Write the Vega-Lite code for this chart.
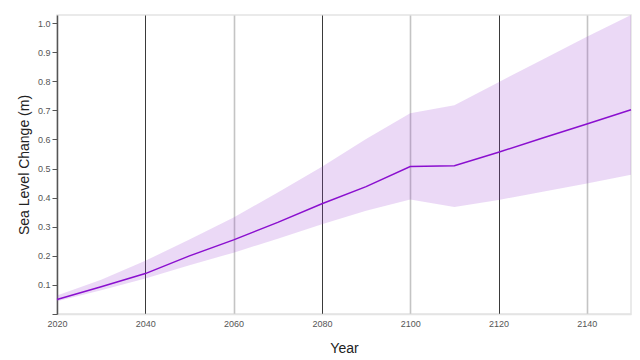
{
  "$schema": "https://vega.github.io/schema/vega-lite/v6.json",
  "autosize": "none",
  "width": 574,
  "height": 299,
  "padding": {"left": 57, "top": 15, "right": 9, "bottom": 46},
  "config": {
    "font": "Liberation Sans",
    "view": {"stroke": "#e4e4e4", "strokeWidth": 1.5},
    "axis": {"labelOverlap": false, "labelFlush": false},
    "axisY": {
      "values": [0.045, 0.1, 0.2, 0.3, 0.4, 0.5, 0.6, 0.7, 0.8, 0.9, 1.0],
      "labelExpr": "datum.value < 0.09 ? '' : format(datum.value, '.1f')",
      "grid": false,
      "domainColor": "#555",
      "domainWidth": 1.5,
      "tickColor": "#555",
      "tickSize": 5,
      "labelFontSize": 9,
      "labelColor": "#555",
      "labelPadding": 2,
      "titleFontSize": 14,
      "titleFontWeight": "normal",
      "titleColor": "#222",
      "titlePadding": 6
    }
  },
  "data": {
    "values": [
      {"year": 2020, "mid": 0.05, "low": 0.044, "high": 0.064},
      {"year": 2030, "mid": 0.094, "low": 0.082, "high": 0.118},
      {"year": 2040, "mid": 0.139, "low": 0.122, "high": 0.183},
      {"year": 2050, "mid": 0.2, "low": 0.168, "high": 0.256},
      {"year": 2060, "mid": 0.255, "low": 0.211, "high": 0.332},
      {"year": 2070, "mid": 0.315, "low": 0.259, "high": 0.418},
      {"year": 2080, "mid": 0.379, "low": 0.309, "high": 0.506},
      {"year": 2090, "mid": 0.438, "low": 0.355, "high": 0.602},
      {"year": 2100, "mid": 0.507, "low": 0.394, "high": 0.69},
      {"year": 2110, "mid": 0.51, "low": 0.368, "high": 0.718},
      {"year": 2120, "mid": 0.556, "low": 0.392, "high": 0.797},
      {"year": 2130, "mid": 0.605, "low": 0.42, "high": 0.875},
      {"year": 2140, "mid": 0.653, "low": 0.449, "high": 0.953},
      {"year": 2150, "mid": 0.702, "low": 0.479, "high": 1.028}
    ]
  },
  "encoding": {
    "x": {
      "field": "year",
      "type": "quantitative",
      "scale": {"domain": [2020, 2150], "nice": false, "zero": false},
      "axis": {
        "title": "Year",
        "values": [2020, 2040, 2060, 2080, 2100, 2120, 2140],
        "format": "d",
        "grid": true,
        "gridColor": {"condition": {"test": "datum.value % 40 == 0", "value": "#3a3a3a"}, "value": "#c4c4c4"},
        "gridWidth": {"condition": {"test": "datum.value % 40 == 0", "value": 1}, "value": 1.6},
        "gridOpacity": {"condition": {"test": "datum.value == 2020", "value": 0}, "value": 1},
        "ticks": false,
        "domain": true,
        "domainColor": "#e4e4e4",
        "domainWidth": 1.5,
        "labelFontSize": 9,
        "labelColor": "#555",
        "labelPadding": 5,
        "titleFontSize": 14,
        "titleFontWeight": "normal",
        "titleColor": "#222",
        "titlePadding": 13
      }
    }
  },
  "layer": [
    {
      "mark": {"type": "area", "color": "#9a3fd0", "opacity": 0.2},
      "encoding": {
        "y": {
          "field": "high",
          "type": "quantitative",
          "scale": {"domain": [0, 1.028], "nice": false},
          "title": "Sea Level Change (m)"
        },
        "y2": {"field": "low"}
      }
    },
    {
      "mark": {"type": "line", "color": "#8a0fcf", "strokeWidth": 1.5},
      "encoding": {
        "y": {"field": "mid", "type": "quantitative", "title": "Sea Level Change (m)"}
      }
    }
  ]
}
